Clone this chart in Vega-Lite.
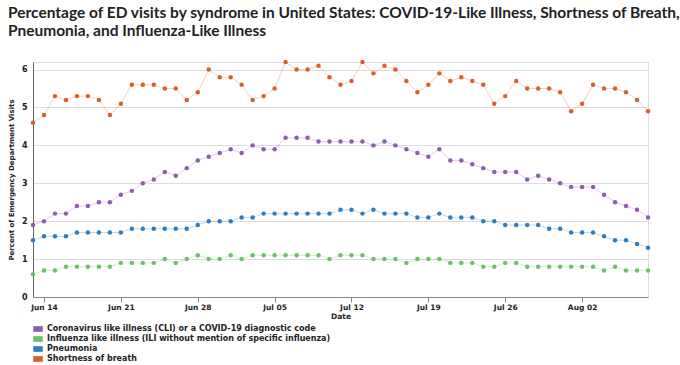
{
  "$schema": "https://vega.github.io/schema/vega-lite/v6.json",
  "width": 615,
  "height": 235,
  "autosize": {"type": "none"},
  "padding": {"left": 33, "top": 62, "right": 32, "bottom": 68},
  "background": "white",
  "title": {
    "text": ["Percentage of ED visits by syndrome in United States: COVID-19-Like Illness, Shortness of Breath,", "Pneumonia, and Influenza-Like Illness"],
    "anchor": "start",
    "frame": "group",
    "dx": -25,
    "offset": 20,
    "font": "Lato",
    "fontSize": 15.5,
    "fontWeight": "bold",
    "lineHeight": 18,
    "color": "#222222"
  },
  "datasets": {
    "labels": [
      {"s": "c", "name": "Coronavirus like illness (CLI) or a COVID-19 diagnostic code"},
      {"s": "i", "name": "Influenza like illness (ILI without mention of specific influenza)"},
      {"s": "p", "name": "Pneumonia"},
      {"s": "b", "name": "Shortness of breath"}
    ]
  },
  "data": {"values": [
    {"d":"2020-06-13","s":"b","v":4.6},{"d":"2020-06-14","s":"b","v":4.8},{"d":"2020-06-15","s":"b","v":5.3},{"d":"2020-06-16","s":"b","v":5.2},{"d":"2020-06-17","s":"b","v":5.3},{"d":"2020-06-18","s":"b","v":5.3},{"d":"2020-06-19","s":"b","v":5.2},{"d":"2020-06-20","s":"b","v":4.8},{"d":"2020-06-21","s":"b","v":5.1},{"d":"2020-06-22","s":"b","v":5.6},{"d":"2020-06-23","s":"b","v":5.6},{"d":"2020-06-24","s":"b","v":5.6},{"d":"2020-06-25","s":"b","v":5.5},{"d":"2020-06-26","s":"b","v":5.5},{"d":"2020-06-27","s":"b","v":5.2},{"d":"2020-06-28","s":"b","v":5.4},{"d":"2020-06-29","s":"b","v":6.0},{"d":"2020-06-30","s":"b","v":5.8},{"d":"2020-07-01","s":"b","v":5.8},{"d":"2020-07-02","s":"b","v":5.6},{"d":"2020-07-03","s":"b","v":5.2},{"d":"2020-07-04","s":"b","v":5.3},{"d":"2020-07-05","s":"b","v":5.5},{"d":"2020-07-06","s":"b","v":6.2},{"d":"2020-07-07","s":"b","v":6.0},{"d":"2020-07-08","s":"b","v":6.0},{"d":"2020-07-09","s":"b","v":6.1},{"d":"2020-07-10","s":"b","v":5.8},{"d":"2020-07-11","s":"b","v":5.6},{"d":"2020-07-12","s":"b","v":5.7},{"d":"2020-07-13","s":"b","v":6.2},{"d":"2020-07-14","s":"b","v":5.9},{"d":"2020-07-15","s":"b","v":6.1},{"d":"2020-07-16","s":"b","v":6.0},{"d":"2020-07-17","s":"b","v":5.7},{"d":"2020-07-18","s":"b","v":5.4},{"d":"2020-07-19","s":"b","v":5.6},{"d":"2020-07-20","s":"b","v":5.9},{"d":"2020-07-21","s":"b","v":5.7},{"d":"2020-07-22","s":"b","v":5.8},{"d":"2020-07-23","s":"b","v":5.7},{"d":"2020-07-24","s":"b","v":5.6},{"d":"2020-07-25","s":"b","v":5.1},{"d":"2020-07-26","s":"b","v":5.3},{"d":"2020-07-27","s":"b","v":5.7},{"d":"2020-07-28","s":"b","v":5.5},{"d":"2020-07-29","s":"b","v":5.5},{"d":"2020-07-30","s":"b","v":5.5},{"d":"2020-07-31","s":"b","v":5.4},{"d":"2020-08-01","s":"b","v":4.9},{"d":"2020-08-02","s":"b","v":5.1},{"d":"2020-08-03","s":"b","v":5.6},{"d":"2020-08-04","s":"b","v":5.5},{"d":"2020-08-05","s":"b","v":5.5},{"d":"2020-08-06","s":"b","v":5.4},{"d":"2020-08-07","s":"b","v":5.2},{"d":"2020-08-08","s":"b","v":4.9},
    {"d":"2020-06-13","s":"c","v":1.9},{"d":"2020-06-14","s":"c","v":2.0},{"d":"2020-06-15","s":"c","v":2.2},{"d":"2020-06-16","s":"c","v":2.2},{"d":"2020-06-17","s":"c","v":2.4},{"d":"2020-06-18","s":"c","v":2.4},{"d":"2020-06-19","s":"c","v":2.5},{"d":"2020-06-20","s":"c","v":2.5},{"d":"2020-06-21","s":"c","v":2.7},{"d":"2020-06-22","s":"c","v":2.8},{"d":"2020-06-23","s":"c","v":3.0},{"d":"2020-06-24","s":"c","v":3.1},{"d":"2020-06-25","s":"c","v":3.3},{"d":"2020-06-26","s":"c","v":3.2},{"d":"2020-06-27","s":"c","v":3.4},{"d":"2020-06-28","s":"c","v":3.6},{"d":"2020-06-29","s":"c","v":3.7},{"d":"2020-06-30","s":"c","v":3.8},{"d":"2020-07-01","s":"c","v":3.9},{"d":"2020-07-02","s":"c","v":3.8},{"d":"2020-07-03","s":"c","v":4.0},{"d":"2020-07-04","s":"c","v":3.9},{"d":"2020-07-05","s":"c","v":3.9},{"d":"2020-07-06","s":"c","v":4.2},{"d":"2020-07-07","s":"c","v":4.2},{"d":"2020-07-08","s":"c","v":4.2},{"d":"2020-07-09","s":"c","v":4.1},{"d":"2020-07-10","s":"c","v":4.1},{"d":"2020-07-11","s":"c","v":4.1},{"d":"2020-07-12","s":"c","v":4.1},{"d":"2020-07-13","s":"c","v":4.1},{"d":"2020-07-14","s":"c","v":4.0},{"d":"2020-07-15","s":"c","v":4.1},{"d":"2020-07-16","s":"c","v":4.0},{"d":"2020-07-17","s":"c","v":3.9},{"d":"2020-07-18","s":"c","v":3.8},{"d":"2020-07-19","s":"c","v":3.7},{"d":"2020-07-20","s":"c","v":3.9},{"d":"2020-07-21","s":"c","v":3.6},{"d":"2020-07-22","s":"c","v":3.6},{"d":"2020-07-23","s":"c","v":3.5},{"d":"2020-07-24","s":"c","v":3.4},{"d":"2020-07-25","s":"c","v":3.3},{"d":"2020-07-26","s":"c","v":3.3},{"d":"2020-07-27","s":"c","v":3.3},{"d":"2020-07-28","s":"c","v":3.1},{"d":"2020-07-29","s":"c","v":3.2},{"d":"2020-07-30","s":"c","v":3.1},{"d":"2020-07-31","s":"c","v":3.0},{"d":"2020-08-01","s":"c","v":2.9},{"d":"2020-08-02","s":"c","v":2.9},{"d":"2020-08-03","s":"c","v":2.9},{"d":"2020-08-04","s":"c","v":2.7},{"d":"2020-08-05","s":"c","v":2.5},{"d":"2020-08-06","s":"c","v":2.4},{"d":"2020-08-07","s":"c","v":2.3},{"d":"2020-08-08","s":"c","v":2.1},
    {"d":"2020-06-13","s":"p","v":1.5},{"d":"2020-06-14","s":"p","v":1.6},{"d":"2020-06-15","s":"p","v":1.6},{"d":"2020-06-16","s":"p","v":1.6},{"d":"2020-06-17","s":"p","v":1.7},{"d":"2020-06-18","s":"p","v":1.7},{"d":"2020-06-19","s":"p","v":1.7},{"d":"2020-06-20","s":"p","v":1.7},{"d":"2020-06-21","s":"p","v":1.7},{"d":"2020-06-22","s":"p","v":1.8},{"d":"2020-06-23","s":"p","v":1.8},{"d":"2020-06-24","s":"p","v":1.8},{"d":"2020-06-25","s":"p","v":1.8},{"d":"2020-06-26","s":"p","v":1.8},{"d":"2020-06-27","s":"p","v":1.8},{"d":"2020-06-28","s":"p","v":1.9},{"d":"2020-06-29","s":"p","v":2.0},{"d":"2020-06-30","s":"p","v":2.0},{"d":"2020-07-01","s":"p","v":2.0},{"d":"2020-07-02","s":"p","v":2.1},{"d":"2020-07-03","s":"p","v":2.1},{"d":"2020-07-04","s":"p","v":2.2},{"d":"2020-07-05","s":"p","v":2.2},{"d":"2020-07-06","s":"p","v":2.2},{"d":"2020-07-07","s":"p","v":2.2},{"d":"2020-07-08","s":"p","v":2.2},{"d":"2020-07-09","s":"p","v":2.2},{"d":"2020-07-10","s":"p","v":2.2},{"d":"2020-07-11","s":"p","v":2.3},{"d":"2020-07-12","s":"p","v":2.3},{"d":"2020-07-13","s":"p","v":2.2},{"d":"2020-07-14","s":"p","v":2.3},{"d":"2020-07-15","s":"p","v":2.2},{"d":"2020-07-16","s":"p","v":2.2},{"d":"2020-07-17","s":"p","v":2.2},{"d":"2020-07-18","s":"p","v":2.1},{"d":"2020-07-19","s":"p","v":2.1},{"d":"2020-07-20","s":"p","v":2.2},{"d":"2020-07-21","s":"p","v":2.1},{"d":"2020-07-22","s":"p","v":2.1},{"d":"2020-07-23","s":"p","v":2.1},{"d":"2020-07-24","s":"p","v":2.0},{"d":"2020-07-25","s":"p","v":2.0},{"d":"2020-07-26","s":"p","v":1.9},{"d":"2020-07-27","s":"p","v":1.9},{"d":"2020-07-28","s":"p","v":1.9},{"d":"2020-07-29","s":"p","v":1.9},{"d":"2020-07-30","s":"p","v":1.8},{"d":"2020-07-31","s":"p","v":1.8},{"d":"2020-08-01","s":"p","v":1.7},{"d":"2020-08-02","s":"p","v":1.7},{"d":"2020-08-03","s":"p","v":1.7},{"d":"2020-08-04","s":"p","v":1.6},{"d":"2020-08-05","s":"p","v":1.5},{"d":"2020-08-06","s":"p","v":1.5},{"d":"2020-08-07","s":"p","v":1.4},{"d":"2020-08-08","s":"p","v":1.3},
    {"d":"2020-06-13","s":"i","v":0.6},{"d":"2020-06-14","s":"i","v":0.7},{"d":"2020-06-15","s":"i","v":0.7},{"d":"2020-06-16","s":"i","v":0.8},{"d":"2020-06-17","s":"i","v":0.8},{"d":"2020-06-18","s":"i","v":0.8},{"d":"2020-06-19","s":"i","v":0.8},{"d":"2020-06-20","s":"i","v":0.8},{"d":"2020-06-21","s":"i","v":0.9},{"d":"2020-06-22","s":"i","v":0.9},{"d":"2020-06-23","s":"i","v":0.9},{"d":"2020-06-24","s":"i","v":0.9},{"d":"2020-06-25","s":"i","v":1.0},{"d":"2020-06-26","s":"i","v":0.9},{"d":"2020-06-27","s":"i","v":1.0},{"d":"2020-06-28","s":"i","v":1.1},{"d":"2020-06-29","s":"i","v":1.0},{"d":"2020-06-30","s":"i","v":1.0},{"d":"2020-07-01","s":"i","v":1.1},{"d":"2020-07-02","s":"i","v":1.0},{"d":"2020-07-03","s":"i","v":1.1},{"d":"2020-07-04","s":"i","v":1.1},{"d":"2020-07-05","s":"i","v":1.1},{"d":"2020-07-06","s":"i","v":1.1},{"d":"2020-07-07","s":"i","v":1.1},{"d":"2020-07-08","s":"i","v":1.1},{"d":"2020-07-09","s":"i","v":1.1},{"d":"2020-07-10","s":"i","v":1.0},{"d":"2020-07-11","s":"i","v":1.1},{"d":"2020-07-12","s":"i","v":1.1},{"d":"2020-07-13","s":"i","v":1.1},{"d":"2020-07-14","s":"i","v":1.0},{"d":"2020-07-15","s":"i","v":1.0},{"d":"2020-07-16","s":"i","v":1.0},{"d":"2020-07-17","s":"i","v":0.9},{"d":"2020-07-18","s":"i","v":1.0},{"d":"2020-07-19","s":"i","v":1.0},{"d":"2020-07-20","s":"i","v":1.0},{"d":"2020-07-21","s":"i","v":0.9},{"d":"2020-07-22","s":"i","v":0.9},{"d":"2020-07-23","s":"i","v":0.9},{"d":"2020-07-24","s":"i","v":0.8},{"d":"2020-07-25","s":"i","v":0.8},{"d":"2020-07-26","s":"i","v":0.9},{"d":"2020-07-27","s":"i","v":0.9},{"d":"2020-07-28","s":"i","v":0.8},{"d":"2020-07-29","s":"i","v":0.8},{"d":"2020-07-30","s":"i","v":0.8},{"d":"2020-07-31","s":"i","v":0.8},{"d":"2020-08-01","s":"i","v":0.8},{"d":"2020-08-02","s":"i","v":0.8},{"d":"2020-08-03","s":"i","v":0.8},{"d":"2020-08-04","s":"i","v":0.7},{"d":"2020-08-05","s":"i","v":0.8},{"d":"2020-08-06","s":"i","v":0.7},{"d":"2020-08-07","s":"i","v":0.7},{"d":"2020-08-08","s":"i","v":0.7}
  ]},
  "transform": [
    {"lookup": "s", "from": {"data": {"name": "labels"}, "key": "s", "fields": ["name"]}}
  ],
  "encoding": {
    "x": {
      "field": "d", "type": "temporal",
      "scale": {"type": "utc", "nice": false},
      "axis": {
        "title": "Date", "format": "%b %d", "tickCount": {"interval": "week", "step": 1},
        "grid": false, "domainColor": "#888888", "tickColor": "#888888", "tickSize": 5,
        "labelFont": "DejaVu Sans", "labelFontWeight": "bold", "labelFontSize": 7.5, "labelColor": "#222222", "labelPadding": 1,
        "titleFont": "DejaVu Sans", "titleFontWeight": "bold", "titleFontSize": 7.5, "titleColor": "#222222", "titlePadding": 2
      }
    },
    "y": {
      "field": "v", "type": "quantitative",
      "scale": {"domain": [0, 6.2], "nice": false},
      "axis": {
        "title": "Percent of Emergency Department Visits", "values": [0, 1, 2, 3, 4, 5, 6],
        "grid": true, "gridColor": "#dddddd", "ticks": false, "domainColor": "#666666",
        "labelFont": "DejaVu Sans", "labelFontWeight": "bold", "labelFontSize": 8, "labelColor": "#222222", "labelPadding": 6,
        "titleFont": "DejaVu Sans", "titleFontWeight": "bold", "titleFontSize": 7, "titleColor": "#222222", "titlePadding": 7
      }
    },
    "color": {
      "field": "name", "type": "nominal",
      "scale": {
        "domain": ["Coronavirus like illness (CLI) or a COVID-19 diagnostic code", "Influenza like illness (ILI without mention of specific influenza)", "Pneumonia", "Shortness of breath"],
        "range": ["#8e5ea8", "#6fbf6a", "#2f7dbc", "#d95f2b"]
      },
      "legend": {
        "title": null, "orient": "bottom", "direction": "vertical", "offset": 4,
        "symbolType": "M-1,-0.6H1V0.6H-1Z", "symbolSize": 90, "symbolStrokeWidth": 0, "symbolOpacity": 1,
        "labelFont": "DejaVu Sans", "labelFontWeight": "bold", "labelFontSize": 8, "labelColor": "#222222", "labelLimit": 0,
        "rowPadding": 1, "labelOffset": 4
      }
    }
  },
  "layer": [
    {"mark": {"type": "line", "strokeWidth": 1, "opacity": 0.3}},
    {"mark": {"type": "point", "filled": true, "size": 20, "opacity": 1}}
  ]
}
